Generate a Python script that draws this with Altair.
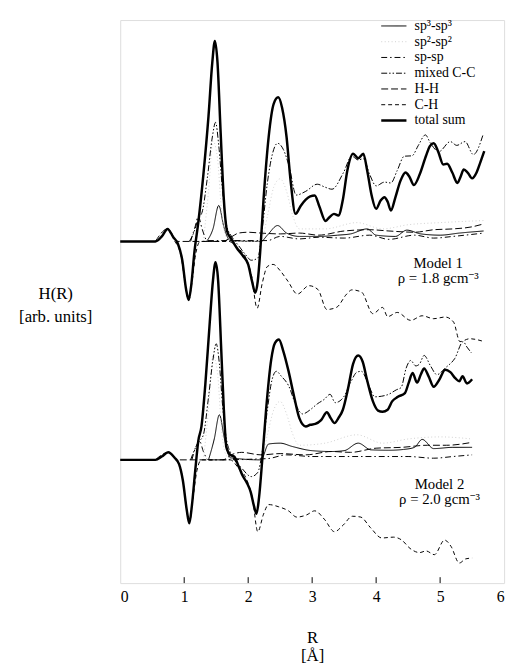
import altair as alt
import pandas as pd

FONT = "Liberation Serif, Noto Serif, DejaVu Serif, serif"

series_order = ["sp³-sp³", "sp²-sp²", "sp-sp", "mixed C-C", "H-H", "C-H", "total sum"]
series_color = ["black", "#d0d0d0", "black", "black", "black", "black", "black"]
series_dash = [[1, 0], [1, 2.5], [6, 3, 1.5, 3], [6, 2, 1.5, 2, 1.5, 2], [7, 3], [4, 3], [1, 0]]
total_name = "total sum"

x_ticks = [0, 1, 2, 3, 4, 5, 6]
inner_ticks = [1, 2, 3, 4, 5]

# ---------------- Model 1 (rho = 1.8) ----------------
m1_sp3_R = [1.35, 1.45, 1.54, 1.62, 1.72, 2.20, 2.30, 2.46, 2.60, 2.80, 3.10, 3.40, 3.60, 3.86, 4.00, 4.30, 4.48, 4.70, 5.00, 5.30, 5.68]
m1_sp3_H = [0.0, 0.30, 0.86, 0.35, 0.02, 0.0, 0.15, 0.38, 0.20, 0.12, 0.12, 0.15, 0.18, 0.30, 0.15, 0.12, 0.27, 0.18, 0.15, 0.20, 0.25]

m1_sp2_R = [1.30, 1.38, 1.45, 1.52, 1.58, 1.66, 1.80, 2.20, 2.30, 2.40, 2.50, 2.60, 2.70, 2.80, 3.20, 3.70, 4.10, 4.50, 5.00, 5.68]
m1_sp2_H = [0.0, 1.2, 2.4, 2.0, 0.8, 0.1, 0.0, 0.0, 0.6, 1.3, 1.5, 1.2, 0.6, 0.3, 0.30, 0.45, 0.30, 0.40, 0.45, 0.50]

m1_sp_R = [1.10, 1.17, 1.22, 1.28, 1.36, 2.30, 2.50, 2.80, 3.10, 3.50, 3.90, 4.20, 4.60, 4.90, 5.20, 5.68]
m1_sp_H = [0.0, 0.35, 0.60, 0.30, 0.02, 0.02, 0.12, 0.06, 0.10, 0.08, 0.15, 0.05, 0.15, 0.08, 0.12, 0.20]

m1_mix_R = [1.08, 1.16, 1.22, 1.28, 1.36, 1.44, 1.49, 1.54, 1.60, 1.66, 1.75, 1.85, 1.95, 2.05, 2.15, 2.22, 2.30, 2.38, 2.46, 2.55, 2.64, 2.75, 2.90, 3.08, 3.20, 3.31, 3.49, 3.62, 3.72, 3.80, 3.90, 4.00, 4.13, 4.23, 4.33, 4.44, 4.56, 4.66, 4.77, 4.85, 4.98, 5.16, 5.26, 5.39, 5.52, 5.67]
m1_mix_H = [0.0, 0.25, 0.55, 0.70, 1.50, 2.50, 2.85, 2.30, 1.20, 0.40, 0.10, -0.10, -0.30, -0.45, -0.40, 0.30, 1.40, 2.10, 2.35, 2.20, 1.80, 1.11, 1.20, 1.37, 1.30, 1.25, 1.65, 2.04, 1.95, 1.98, 1.60, 1.33, 1.42, 1.40, 1.70, 2.04, 2.05, 2.30, 2.55, 2.35, 2.15, 2.39, 2.30, 2.39, 2.08, 2.55]

m1_hh_R = [0.55, 0.74, 0.90, 1.60, 1.75, 1.85, 2.00, 2.20, 2.50, 2.80, 3.10, 3.50, 3.90, 4.20, 4.60, 4.90, 5.20, 5.50, 5.68]
m1_hh_H = [0.0, 0.30, 0.0, 0.0, 0.12, 0.20, 0.22, 0.20, 0.18, 0.20, 0.15, 0.25, 0.28, 0.25, 0.22, 0.28, 0.30, 0.35, 0.42]

m1_ch_R = [0.85, 0.95, 1.02, 1.07, 1.12, 1.18, 1.25, 1.70, 1.82, 1.95, 2.05, 2.14, 2.22, 2.30, 2.39, 2.50, 2.62, 2.77, 2.95, 3.09, 3.23, 3.38, 3.54, 3.62, 3.77, 3.95, 4.10, 4.18, 4.33, 4.54, 4.72, 4.90, 5.08, 5.21, 5.31, 5.46, 5.69]
m1_ch_H = [0.0, -0.35, -1.05, -1.42, -1.0, -0.3, 0.0, 0.0, -0.15, -0.35, -0.8, -1.6, -1.0, -0.6, -0.55, -0.7, -0.95, -1.26, -1.06, -1.15, -1.63, -1.58, -1.26, -1.16, -1.21, -1.73, -1.58, -1.80, -1.70, -1.89, -1.78, -1.85, -1.81, -1.93, -2.40, -2.33, -2.40]

m1_tot_R = [0.0, 0.55, 0.65, 0.74, 0.83, 0.90, 0.97, 1.03, 1.07, 1.11, 1.16, 1.22, 1.30, 1.38, 1.44, 1.48, 1.52, 1.57, 1.62, 1.67, 1.74, 1.82, 1.92, 2.00, 2.06, 2.11, 2.15, 2.19, 2.24, 2.32, 2.40, 2.47, 2.53, 2.60, 2.66, 2.74, 2.82, 2.90, 2.97, 3.04, 3.11, 3.21, 3.27, 3.34, 3.41, 3.48, 3.55, 3.64, 3.72, 3.80, 3.86, 3.93, 4.00, 4.07, 4.13, 4.18, 4.23, 4.30, 4.38, 4.46, 4.52, 4.59, 4.68, 4.78, 4.84, 4.90, 4.97, 5.05, 5.11, 5.19, 5.27, 5.32, 5.37, 5.43, 5.50, 5.57, 5.63, 5.69]
m1_tot_H = [0.0, 0.0, 0.12, 0.30, 0.10, -0.05, -0.45, -1.15, -1.40, -1.05, -0.25, 0.45, 1.60, 3.00, 4.30, 4.80, 4.30, 2.60, 1.00, 0.25, 0.05, -0.15, -0.35, -0.55, -0.95, -1.23, -0.95, -0.20, 1.00, 2.50, 3.30, 3.45, 3.20, 2.50, 1.50, 0.66, 0.85, 1.00, 1.08, 1.10, 0.85, 0.49, 0.58, 0.66, 0.62, 1.00, 1.70, 2.10, 1.99, 2.10, 1.70, 1.10, 0.78, 0.98, 1.06, 0.95, 0.74, 1.05, 1.45, 1.65, 1.55, 1.35, 1.60, 2.05, 2.28, 2.35, 2.15, 1.84, 1.86, 1.65, 1.40, 1.55, 1.72, 1.65, 1.51, 1.65, 1.90, 2.16]

# ---------------- Model 2 (rho = 2.0) ----------------
m2_sp3_R = [1.38, 1.47, 1.55, 1.63, 1.72, 2.20, 2.32, 2.50, 2.69, 3.00, 3.30, 3.50, 3.72, 3.92, 4.20, 4.43, 4.60, 4.72, 4.90, 5.20, 5.50]
m2_sp3_H = [0.0, 0.50, 1.08, 0.50, 0.05, 0.0, 0.38, 0.40, 0.32, 0.22, 0.20, 0.22, 0.40, 0.24, 0.23, 0.25, 0.30, 0.49, 0.27, 0.30, 0.30]

m2_sp2_R = [1.30, 1.38, 1.45, 1.52, 1.58, 1.66, 1.80, 2.20, 2.30, 2.40, 2.50, 2.60, 2.70, 2.80, 3.20, 3.70, 4.10, 4.50, 5.00, 5.50]
m2_sp2_H = [0.0, 1.2, 2.5, 2.1, 0.8, 0.1, 0.0, 0.0, 0.6, 1.2, 1.4, 1.1, 0.6, 0.35, 0.40, 0.60, 0.40, 0.50, 0.55, 0.50]

m2_sp_R = [1.12, 1.18, 1.24, 1.30, 1.38, 2.30, 2.60, 3.00, 3.50, 4.00, 4.50, 4.90, 5.20, 5.50]
m2_sp_H = [0.0, 0.30, 0.45, 0.20, 0.0, 0.03, 0.12, 0.08, 0.08, 0.08, 0.08, 0.04, 0.08, 0.12]

m2_mix_R = [1.10, 1.18, 1.24, 1.30, 1.38, 1.45, 1.50, 1.55, 1.60, 1.66, 1.75, 1.90, 2.05, 2.15, 2.22, 2.30, 2.37, 2.44, 2.52, 2.63, 2.75, 2.85, 2.97, 3.08, 3.19, 3.28, 3.36, 3.49, 3.60, 3.70, 3.77, 3.88, 3.98, 4.18, 4.32, 4.39, 4.47, 4.54, 4.62, 4.68, 4.75, 4.85, 4.95, 5.08, 5.23, 5.36, 5.42, 5.49]
m2_mix_H = [0.0, 0.30, 0.45, 0.60, 1.50, 2.40, 2.78, 2.30, 1.30, 0.50, 0.10, -0.20, -0.40, -0.30, 0.20, 1.20, 1.90, 2.12, 2.00, 1.78, 1.30, 1.10, 1.20, 1.34, 1.45, 1.57, 1.37, 1.50, 1.85, 2.10, 2.12, 1.80, 1.51, 1.56, 1.68, 1.73, 2.20, 2.38, 2.25, 2.30, 2.50, 2.25, 2.04, 2.20, 2.43, 2.83, 2.70, 2.56]

m2_hh_R = [0.55, 0.75, 0.90, 1.60, 1.75, 1.90, 2.20, 2.50, 2.90, 3.30, 3.60, 4.00, 4.40, 4.80, 5.10, 5.50]
m2_hh_H = [0.0, 0.18, 0.0, 0.0, 0.13, 0.18, 0.12, 0.15, 0.12, 0.20, 0.18, 0.28, 0.30, 0.35, 0.35, 0.42]

m2_ch_R = [0.88, 0.97, 1.04, 1.08, 1.13, 1.20, 1.27, 1.72, 1.85, 1.97, 2.07, 2.15, 2.24, 2.32, 2.47, 2.63, 2.76, 2.91, 3.04, 3.19, 3.35, 3.48, 3.63, 3.76, 3.91, 4.09, 4.27, 4.40, 4.53, 4.68, 4.78, 4.91, 5.07, 5.17, 5.30, 5.40, 5.50]
m2_ch_H = [0.0, -0.40, -1.20, -1.52, -1.00, -0.25, 0.0, 0.0, -0.20, -0.45, -0.95, -1.72, -1.30, -1.07, -1.12, -1.22, -1.37, -1.32, -1.22, -1.42, -1.72, -1.57, -1.35, -1.37, -1.62, -1.87, -1.85, -1.92, -2.12, -2.22, -2.18, -2.27, -1.92, -2.07, -2.47, -2.37, -2.35]

m2_tot_R = [0.0, 0.55, 0.65, 0.75, 0.85, 0.92, 0.98, 1.04, 1.08, 1.12, 1.17, 1.22, 1.27, 1.33, 1.40, 1.45, 1.49, 1.53, 1.58, 1.62, 1.66, 1.72, 1.78, 1.85, 1.91, 1.98, 2.04, 2.09, 2.13, 2.17, 2.22, 2.28, 2.36, 2.42, 2.48, 2.55, 2.63, 2.72, 2.80, 2.90, 2.97, 3.05, 3.14, 3.23, 3.29, 3.35, 3.41, 3.48, 3.56, 3.64, 3.72, 3.79, 3.86, 3.95, 4.03, 4.10, 4.18, 4.25, 4.34, 4.45, 4.51, 4.57, 4.64, 4.70, 4.75, 4.82, 4.90, 4.98, 5.08, 5.16, 5.24, 5.30, 5.35, 5.42, 5.50]
m2_tot_H = [0.0, 0.0, 0.08, 0.18, 0.05, -0.10, -0.50, -1.20, -1.52, -1.10, -0.30, 0.45, 0.80, 1.80, 3.30, 4.30, 4.73, 4.30, 2.60, 1.20, 0.30, 0.12, 0.08, -0.15, -0.37, -0.55, -0.77, -1.10, -1.29, -0.90, 0.0, 1.20, 2.40, 2.80, 2.88, 2.60, 2.13, 1.50, 1.00, 0.80, 0.84, 0.86, 0.95, 1.14, 1.00, 0.88, 1.00, 1.20, 1.70, 2.30, 2.50, 2.35, 1.90, 1.40, 1.18, 1.15, 1.20, 1.40, 1.51, 1.60, 1.85, 2.08, 1.85, 2.05, 2.19, 2.00, 1.75, 1.90, 2.16, 2.10, 1.95, 1.88, 2.00, 1.83, 1.93]

model_offsets = {"Model 1": 0.0, "Model 2": -5.23}

models = {
    "Model 1": [
        (m1_sp3_R, m1_sp3_H), (m1_sp2_R, m1_sp2_H), (m1_sp_R, m1_sp_H), (m1_mix_R, m1_mix_H),
        (m1_hh_R, m1_hh_H), (m1_ch_R, m1_ch_H), (m1_tot_R, m1_tot_H)],
    "Model 2": [
        (m2_sp3_R, m2_sp3_H), (m2_sp2_R, m2_sp2_H), (m2_sp_R, m2_sp_H), (m2_mix_R, m2_mix_H),
        (m2_hh_R, m2_hh_H), (m2_ch_R, m2_ch_H), (m2_tot_R, m2_tot_H)],
}

rows = []
for si, name in enumerate(series_order):
    for model, curves in models.items():
        rs, hs = curves[si]
        for r, h in zip(rs, hs):
            rows.append({"R": r, "H": h + model_offsets[model], "series": name, "model": model})
df = pd.DataFrame(rows)
df_parts = df[df["series"] != total_name]
df_total = df[df["series"] == total_name]

# annotations
ann_text = ["Model 1", "ρ = 1.8 gcm⁻³", "Model 2", "ρ = 2.0 gcm⁻³"]
ann_R = [4.97, 4.97, 4.99, 4.99]
ann_H = [-0.52, -0.88, -0.57 - 5.23, -0.93 - 5.23]
ann = pd.DataFrame({"R": ann_R, "H": ann_H, "text": ann_text})

W, HGT = 390, 572

x_scale = alt.Scale(domain=[0, 6], nice=False, zero=False)
y_scale = alt.Scale(domain=[-8.18, 5.30], nice=False, zero=False)

leg = alt.Legend(
    title=None, orient="none", legendX=271, legendY=-1,
    symbolType="M-1.6,0L1.6,0", symbolSize=256,
    symbolStrokeWidth=alt.ExprRef("datum.value === 'total sum' ? 2.5 : 1"),
    labelFont=FONT, labelFontSize=14, labelColor="black", labelOffset=14,
    rowPadding=2, padding=0,
)

x_enc = alt.X("R:Q", scale=x_scale, axis=alt.Axis(
    values=x_ticks, tickSize=0, domain=False, grid=False, format="d",
    labelFont=FONT, labelFontSize=16, labelColor="black", labelPadding=6,
    title=["R", "[Å]"], titleFont=FONT, titleFontSize=17, titleFontWeight="normal",
    titleColor="black", titleBaseline="middle", titleY=55, titleLineHeight=19))
y_enc = alt.Y("H:Q", scale=y_scale, axis=alt.Axis(
    ticks=False, labels=False, domain=False, grid=False,
    title=["H(R)", "[arb. units]"], titleFont=FONT, titleFontSize=17,
    titleFontWeight="normal", titleColor="black", titleAngle=0,
    titleAlign="center", titleBaseline="middle", titleX=-66, titleY=278,
    titleLineHeight=23))

parts = alt.Chart(df_parts).mark_line(interpolate="monotone", strokeWidth=1).encode(
    x=x_enc, y=y_enc,
    detail="model:N",
    order=alt.Order("R:Q"),
    color=alt.Color("series:N", scale=alt.Scale(domain=series_order, range=series_color), legend=leg),
    strokeDash=alt.StrokeDash("series:N", scale=alt.Scale(domain=series_order, range=series_dash), legend=leg),
)

total = alt.Chart(df_total).mark_line(interpolate="monotone", strokeWidth=2.5, color="black").encode(
    x="R:Q", y="H:Q", detail="model:N", order=alt.Order("R:Q"))

texts = alt.Chart(ann).mark_text(font=FONT, fontSize=15, color="black", align="center", baseline="middle").encode(
    x="R:Q", y="H:Q", text="text:N")

ticks = alt.Chart(pd.DataFrame({"R": inner_ticks})).mark_rule(color="black", strokeWidth=1).encode(
    x="R:Q", y=alt.value(HGT), y2=alt.value(HGT - 6))

chart = alt.layer(parts, total, texts, ticks).properties(
    width=W, height=HGT,
    autosize=alt.AutoSizeParams(type="none"),
    padding={"left": 114, "top": 7, "right": 6, "bottom": 80},
).configure_view(stroke="black", strokeWidth=1.2).configure(background="white")

chart.save("out.html", embed_options={"renderer": "svg", "actions": False})
